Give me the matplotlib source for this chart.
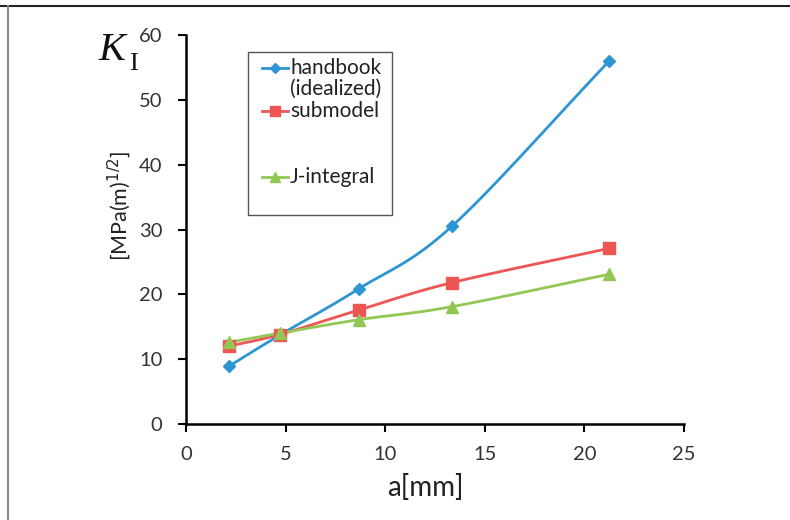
import numpy as np
import matplotlib.pyplot as plt
from matplotlib.lines import Line2D

a_mm = [2.15, 4.7, 8.7, 13.35, 21.25]
handbook = [8.9, 13.7, 20.9, 30.5, 56.0]
submodel = [12.0, 13.8, 17.6, 21.8, 27.1]
j_integral = [12.6, 14.0, 16.1, 18.1, 23.1]

blue = '#2e95d3'
red = '#ee5555'
green = '#92c655'


def smooth(x, y, n=30):
    # catmull-rom curve through the points, like excel's "smoothed line"
    x = np.asarray(x, float)
    y = np.asarray(y, float)
    px = np.concatenate([[2 * x[0] - x[1]], x, [2 * x[-1] - x[-2]]])
    py = np.concatenate([[2 * y[0] - y[1]], y, [2 * y[-1] - y[-2]]])
    xs, ys = [], []
    t = np.linspace(0, 1, n)
    for i in range(1, len(px) - 2):
        for p, out in ((px, xs), (py, ys)):
            p0, p1, p2, p3 = p[i - 1], p[i], p[i + 1], p[i + 2]
            out.extend(0.5 * (2 * p1 + (-p0 + p2) * t
                              + (2 * p0 - 5 * p1 + 4 * p2 - p3) * t ** 2
                              + (-p0 + 3 * p1 - 3 * p2 + p3) * t ** 3))
    return xs, ys


plt.rcParams['font.family'] = ['Lato', 'DejaVu Sans']
fig = plt.figure(figsize=(7.9, 5.2), dpi=100)
ax = fig.add_axes([0.2354, 0.1846, 0.6304, 0.7481])

series = [
    (handbook, blue, 'D', 6.5),
    (submodel, red, 's', 8.5),
    (j_integral, green, '^', 9),
]
for vals, col, mk, ms in series:
    sx, sy = smooth(a_mm, vals)
    ax.plot(sx, sy, color=col, lw=2, zorder=2)
    ax.plot(a_mm, vals, ls='none', marker=mk, ms=ms, color=col, zorder=3)

ax.set_xlim(0, 25)
ax.set_ylim(0, 60)
ax.set_xticks([0, 5, 10, 15, 20, 25])
ax.set_yticks([0, 10, 20, 30, 40, 50, 60])
for s in ['top', 'right']:
    ax.spines[s].set_visible(False)
for s in ['left', 'bottom']:
    ax.spines[s].set_linewidth(1.8)
ax.tick_params(direction='out', length=6, width=1.5, labelsize=14.5,
               labelcolor='#333333')
ax.tick_params(axis='x', pad=10)
ax.tick_params(axis='y', pad=11)

ax.set_xlabel('a[mm]', fontsize=20, color='#222222', va='top')
ax.xaxis.set_label_coords(0.48, -0.128)
ax.set_ylabel(r'[MPa(m)$^{1/2}$]', fontsize=15.5, color='#222222')
ax.yaxis.set_label_coords(-0.106, 0.56)

fig.text(112 / 790, 1 - 50 / 520, 'K', family='Liberation Serif', style='italic',
         fontsize=29, ha='center', va='center', color='#111111')
fig.text(133 / 790, 1 - 64 / 520, 'I', family='Liberation Serif',
         fontsize=19, ha='center', va='center', color='#111111')

# legend box drawn by hand so the handles sit on the first text line
lx0, ly0, lx1, ly1 = 248 / 790, 1 - 215 / 520, 392 / 790, 1 - 52 / 520
fig.patches.append(plt.Rectangle((lx0, ly0), lx1 - lx0, ly1 - ly0,
                                 transform=fig.transFigure, fill=False,
                                 edgecolor='#555555', lw=1))
entries = [
    (['handbook', '(idealized)'], 68, blue, 'D', 5),
    (['submodel'], 111, red, 's', 7),
    (['J-integral'], 177, green, '^', 7),
]
for lines, ypix, col, mk, ms in entries:
    yy = 1 - ypix / 520
    fig.lines.append(Line2D([262 / 790, 288 / 790], [yy, yy],
                            transform=fig.transFigure, color=col, lw=2))
    fig.lines.append(Line2D([275 / 790], [yy], transform=fig.transFigure,
                            marker=mk, ms=ms, color=col))
    for k, txt in enumerate(lines):
        fig.text(290 / 790, 1 - (ypix + k * 21) / 520, txt, fontsize=15,
                 va='center', ha='left', color='#222222')

# frame of the original figure
fig.lines.append(Line2D([0, 1], [1 - 6 / 520, 1 - 6 / 520],
                        transform=fig.transFigure, color='#222222', lw=1.5))
fig.lines.append(Line2D([8 / 790, 8 / 790], [0, 1 - 6 / 520],
                        transform=fig.transFigure, color='#888888', lw=1.5))

fig.savefig('out.png', dpi=100)
